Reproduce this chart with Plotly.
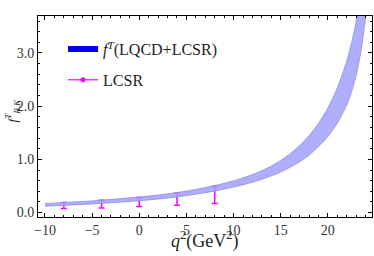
import plotly.graph_objects as go

# Band (LQCD+LCSR)
q_band = [-10, -5, 0, 2, 4, 6, 8, 10, 11, 12, 13, 14, 15, 16, 17, 18, 19, 20, 21, 22, 22.5, 23, 23.5, 24, 24.5]
band_upper = [0.17, 0.22, 0.292, 0.33, 0.377, 0.435, 0.507, 0.597, 0.652, 0.715, 0.788, 0.875, 0.98, 1.105,
              1.259, 1.445, 1.675, 1.966, 2.342, 2.846, 3.178, 3.59, 4.11, 4.78, 5.6]
band_lower = [0.12, 0.163, 0.222, 0.255, 0.295, 0.345, 0.405, 0.48, 0.523, 0.571, 0.626, 0.69, 0.764, 0.851,
              0.955, 1.08, 1.24, 1.43, 1.68, 2.02, 2.26, 2.58, 3.02, 3.66, 4.5]

# LCSR points with error bars
q_lcsr = [-8, -4, 0, 4, 8]
lcsr_top = [0.188, 0.231, 0.282, 0.368, 0.494]
lcsr_bottom = [0.075, 0.087, 0.113, 0.137, 0.169]

x_ticks = [-10, -5, 0, 5, 10, 15, 20]
x_ticktext = ["\u221210", "\u22125", "0", "5", "10", "15", "20"]
y_ticks = [0, 1, 2, 3]
y_ticktext = ["0.0", "1.0", "2.0", "3.0"]

lcsr_center = [(a + b) / 2 for a, b in zip(lcsr_top, lcsr_bottom)]
lcsr_plus = [a - c for a, c in zip(lcsr_top, lcsr_center)]
lcsr_minus = [c - b for b, c in zip(lcsr_bottom, lcsr_center)]

BAND_FILL = "rgba(160,160,250,0.85)"
BAND_EDGE = "rgb(140,140,235)"
MAGENTA = "#ff00ff"
FONT = "Liberation Serif"

fig = go.Figure()

fig.add_trace(go.Scatter(
    x=q_lcsr, y=lcsr_center, mode="markers",
    marker=dict(size=1, color=MAGENTA),
    error_y=dict(type="data", symmetric=False, array=lcsr_plus, arrayminus=lcsr_minus,
                 color=MAGENTA, thickness=1.5, width=3),
    showlegend=False, hoverinfo="skip",
))

fig.add_trace(go.Scatter(
    x=q_band, y=band_lower, mode="lines",
    line=dict(color=BAND_EDGE, width=0.8, shape="spline", smoothing=0.6),
    showlegend=False,
))
fig.add_trace(go.Scatter(
    x=q_band, y=band_upper, mode="lines",
    line=dict(color=BAND_EDGE, width=0.8, shape="spline", smoothing=0.6),
    fill="tonexty", fillcolor=BAND_FILL, showlegend=False,
))

# legend entries
fig.add_trace(go.Scatter(
    x=[None], y=[None], mode="lines", line=dict(color="#0000ee", width=6),
    name="<i>f</i><sup><i>T</i></sup>(LQCD+LCSR)", legendgroup="a",
))
fig.add_trace(go.Scatter(
    x=[None], y=[None], mode="lines+markers", line=dict(color=MAGENTA, width=1.2),
    marker=dict(color=MAGENTA, size=5), name="LCSR", legendgroup="b",
))

axis_common = dict(
    showline=True, linecolor="black", linewidth=1, mirror="allticks",
    ticks="inside", ticklen=4, tickcolor="black", tickwidth=1,
    showgrid=False, zeroline=False, automargin=False,
    tickfont=dict(family=FONT, size=14, color="#333333"),
)

fig.update_xaxes(
    range=[-10.74, 24.68], tickvals=x_ticks, ticktext=x_ticktext,
    minor=dict(dtick=1, ticks="inside", ticklen=2, tickcolor="black", showgrid=False),
    **axis_common,
)
fig.update_yaxes(
    range=[-0.083, 3.695], tickvals=y_ticks, ticktext=y_ticktext,
    minor=dict(dtick=0.2, ticks="inside", ticklen=2, tickcolor="black", showgrid=False),
    **axis_common,
)

fig.add_annotation(
    text="<i>q</i><sup>2</sup>(GeV<sup>2</sup>)", xref="paper", yref="paper",
    x=0.5, y=-0.115, xanchor="center", yanchor="middle", showarrow=False,
    font=dict(family=FONT, size=18, color="#222222"),
)
fig.add_annotation(
    text="<i>f</i><sup><i>T</i></sup><sub><i>B,K</i></sub>", xref="paper", yref="paper",
    x=-0.075, y=0.53, xanchor="center", yanchor="middle", textangle=-90, showarrow=False,
    font=dict(family=FONT, size=13, color="#222222"),
)

fig.update_layout(
    width=374, height=256,
    margin=dict(l=38, r=2, t=16, b=39, autoexpand=False),
    paper_bgcolor="white", plot_bgcolor="white",
    legend=dict(x=0.075, y=0.92, xanchor="left", yanchor="top",
                bgcolor="rgba(0,0,0,0)", tracegroupgap=7,
                font=dict(family=FONT, size=16, color="#222222")),
)

fig.write_html("out.html", config={"displayModeBar": False},
               post_script="document.body.style.margin='0';")
